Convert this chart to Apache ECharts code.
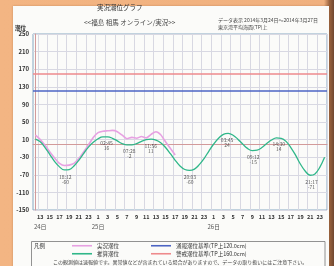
<!DOCTYPE html>
<html>
<head>
<meta charset="utf-8">
<script src="https://cdn.jsdelivr.net/npm/echarts@6/dist/echarts.min.js"></script>
<style>
  html, body { margin: 0; padding: 0; width: 334px; height: 266px; overflow: hidden;
    background: linear-gradient(90deg, #f3b583 0, #f0b07e 97%, #9b643f 98.6%, #6f4630 100%); }
  #paper { position: absolute; left: 13px; top: 6px; width: 316px; height: 262px; background: #fbfbf9;
    box-shadow: 0 0 2px rgba(120, 70, 30, .35); }
  #chart { position: absolute; left: 0; top: 0; width: 334px; height: 266px; filter: blur(0.25px); }
</style>
</head>
<body>
<div id="paper"></div>
<div id="chart"></div>
<script>
// hours from 24日 12:00 to 27日 00:00, one per category
const hourLabels = [12, 13, 14, 15, 16, 17, 18, 19, 20, 21, 22, 23,
  0, 1, 2, 3, 4, 5, 6, 7, 8, 9, 10, 11, 12, 13, 14, 15, 16, 17, 18, 19, 20, 21, 22, 23,
  0, 1, 2, 3, 4, 5, 6, 7, 8, 9, 10, 11, 12, 13, 14, 15, 16, 17, 18, 19, 20, 21, 22, 23, 0]
const dayLabels = ['24日', '25日', '26日']
const yTicks = [-150, -110, -70, -30, 10, 50, 90, 130, 170, 210, 250]

// 実況潮位 (cm, hourly, ends 25日 17時)
const observed = [20, 10, -3, -18, -32, -44, -49, -48, -44, -33, -18, -2, 15, 26, 29, 30, 31, 28,
  20, 12, 15, 13, 17, 14, 22, 28, 21, 5, -10, -25]
// 推算潮位 (cm, hourly)
const predicted = [11, 5, -8, -24, -40, -52, -59, -58, -50, -37, -22, -7, 4, 12, 16, 16, 13, 7, 1,
  -2, -2, 1, 6, 10, 11, 9, 3, -8, -22, -37, -50, -58, -60, -57, -47, -33, -16, 0, 13, 22, 24, 20,
  11, 0, -10, -15, -14, -8, 1, 9, 14, 13, 6, -8, -26, -46, -62, -71, -68, -53, -30]

// 満潮・干潮
const extremeTimes = ['18:12', '02:45', '07:28', '11:56', '20:03', '03:45', '09:12', '14:30', '21:17']
const extremeHours = [6.2, 14.75, 19.47, 23.93, 32.05, 39.75, 45.2, 50.5, 57.28]
const extremeLevels = [-60, 16, -2, 11, -60, 24, -15, 14, -71]

const noticeLevel = 120
const warningLevel = 160

const seriesNames = ['実況潮位', '推算潮位', '通報潮位基準(TP上120.0cm)', '警戒潮位基準(TP上160.0cm)']
const seriesColors = ['#e7a1e2', '#2fb789', '#4d64c4', '#ee8a8c']

const font = '"Noto Sans CJK JP", "Noto Sans", sans-serif'
const categories = hourLabels.map((h, i) => i + '-' + h)
const showHour = (i) => hourLabels[i] % 2 === 1

let dayIdx = 0
const dayAt = {}
hourLabels.forEach((h, i) => {
  if (h % 2 === 1 && (i === 1 || hourLabels[i - 1] === 0)) dayAt[i] = dayLabels[dayIdx++]
})

// legend slots: two columns, two rows
const legendPos = [[72, 243], [72, 251], [151, 243], [151, 251]]
const legends = seriesNames.map((name, i) => ({
  data: [name], left: legendPos[i][0], top: legendPos[i][1], icon: 'rect', padding: 0,
  itemWidth: 20, itemHeight: 1.6, selectedMode: false,
  textStyle: { fontSize: 5.5, color: '#333', fontFamily: font }
}))

const chart = echarts.init(document.getElementById('chart'), null, { renderer: 'canvas' })

chart.setOption({
  animation: false,
  textStyle: { fontFamily: font },
  grid: { left: 33, right: 7, top: 34, bottom: 56, show: true, borderColor: '#86a8c2', borderWidth: 1 },
  legend: legends,
  xAxis: [
    {
      type: 'category', data: categories, boundaryGap: true,
      axisLine: { lineStyle: { color: '#d29a9a' } },
      axisTick: { show: false },
      axisLabel: {
        interval: showHour, margin: 3,
        formatter: (v, i) => {
          const h = '{h|' + hourLabels[i] + '}'
          return dayAt[i] ? h + '\n{d|' + dayAt[i] + '}' : h
        },
        rich: {
          h: { fontSize: 5.5, fontWeight: 'bold', color: '#333', lineHeight: 8, fontFamily: font },
          d: { fontSize: 6, color: '#555', lineHeight: 11, fontFamily: font }
        }
      },
      splitLine: { show: true, interval: showHour, lineStyle: { color: '#d8d8e2', width: 1 } }
    },
    { type: 'value', min: -0.5, max: hourLabels.length - 0.5, show: false }
  ],
  yAxis: {
    type: 'value', min: yTicks[0], max: yTicks[yTicks.length - 1],
    axisLine: { show: true, lineStyle: { color: '#d29a9a' } },
    axisTick: { show: false, customValues: yTicks },
    axisLabel: { customValues: yTicks, fontSize: 6, fontWeight: 'bold', color: '#333', margin: 4 },
    splitLine: { lineStyle: { color: '#d8d8e2', width: 1 } }
  },
  graphic: [
    { type: 'text', left: 97, top: 4, style: { text: '実況潮位グラフ', fill: '#333', font: '6.5px ' + font } },
    { type: 'text', left: 84, top: 19, style: { text: '<<福島 相馬 オンライン/実況>>', fill: '#444', font: '6.5px ' + font } },
    { type: 'text', left: 218, top: 18, style: { text: 'データ表示 2014年3月24日～2014年3月27日', fill: '#444', font: '5px ' + font } },
    { type: 'text', left: 218, top: 25, style: { text: '東京湾平均海面(TP)上', fill: '#444', font: '5px ' + font } },
    { type: 'text', left: 15, top: 25, style: { text: '潮位', fill: '#333', font: 'bold 5.5px ' + font } },
    { type: 'rect', shape: { x: 31.5, y: 241.5, width: 293.5, height: 30 }, style: { fill: 'none', stroke: '#777', lineWidth: 0.8 } },
    { type: 'text', left: 34, top: 243, style: { text: '凡例', fill: '#333', font: '5.5px ' + font } },
    { type: 'text', left: 53, top: 260, style: { text: 'この観測値は速報値です。異常値などが含まれている場合がありますので、データの取り扱いにはご注意下さい。', fill: '#444', font: '5px ' + font } }
  ],
  series: [
    {
      name: seriesNames[0], type: 'line', data: observed, showSymbol: false, smooth: 0.2,
      lineStyle: { color: seriesColors[0], width: 1.6 }, itemStyle: { color: seriesColors[0] }, z: 3
    },
    {
      name: seriesNames[1], type: 'line', data: predicted, showSymbol: false, smooth: 0.4,
      lineStyle: { color: seriesColors[1], width: 1.3 }, itemStyle: { color: seriesColors[1] }, z: 4
    },
    {
      name: seriesNames[2], type: 'line', data: [], itemStyle: { color: seriesColors[2] },
      markLine: { silent: true, symbol: 'none', label: { show: false },
        lineStyle: { color: seriesColors[2], width: 1.5, type: 'solid' }, data: [{ yAxis: noticeLevel }] }
    },
    {
      name: seriesNames[3], type: 'line', data: [], itemStyle: { color: seriesColors[3] },
      markLine: { silent: true, symbol: 'none', label: { show: false },
        lineStyle: { color: seriesColors[3], width: 1.5, type: 'solid' }, data: [{ yAxis: warningLevel }] }
    },
    {
      type: 'scatter', xAxisIndex: 1, symbolSize: 0, silent: true,
      data: extremeHours.map((t, i) => ({ name: extremeTimes[i], value: [t, extremeLevels[i]] })),
      label: {
        show: true, position: 'bottom', distance: 4, color: '#333', fontSize: 5, lineHeight: 5,
        formatter: (p) => p.name + '\n' + p.value[1]
      }
    }
  ]
})
</script>
</body>
</html>
